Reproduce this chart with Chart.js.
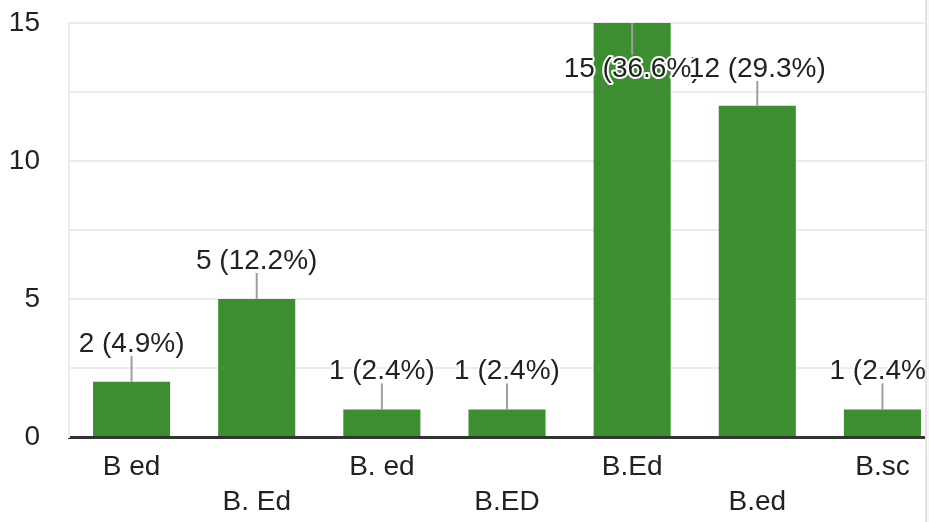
<!DOCTYPE html>
<html>
<head>
<meta charset="utf-8">
<script src="https://cdn.jsdelivr.net/npm/chart.js@4"></script>
<style>
  html, body { margin: 0; padding: 0; background: #f7f7f7; overflow: hidden; }
  #clip { position: absolute; left: 0; top: 0; width: 925px; height: 522px; overflow: hidden; background: #fff; border-right: 2px solid #e3e3e3; }
  #wrap { position: absolute; left: 0; top: 0; width: 945px; height: 522px; }
</style>
</head>
<body>
<div id="clip"><div id="wrap"><canvas id="c"></canvas></div></div>
<script>
const categories = ["B ed", "B. Ed", "B. ed", "B.ED", "B.Ed", "B.ed", "B.sc"];
const counts = [2, 5, 1, 1, 15, 12, 1];
const percents = ["4.9%", "12.2%", "2.4%", "2.4%", "36.6%", "29.3%", "2.4%"];
const yTicks = [0, 5, 10, 15];

const FONT = "'Liberation Sans', Arial, sans-serif";

// staggered two-row category labels
const staggered = categories.map((c, i) => i % 2 === 0 ? [c, ""] : ["", c]);

const labelPlugin = {
  id: "barLabels",
  afterDatasetsDraw(chart) {
    const ctx = chart.ctx;
    const meta = chart.getDatasetMeta(0);
    const area = chart.chartArea;
    ctx.save();
    ctx.font = "28px " + FONT;
    ctx.textAlign = "center";
    ctx.textBaseline = "middle";
    const pos = meta.data.map((bar) => {
      let ly = bar.y - 38;
      const minY = area.top + 46;
      if (ly < minY) ly = minY;
      return ly;
    });
    meta.data.forEach((bar, i) => {
      const ly = pos[i];
      ctx.strokeStyle = "#9e9e9e";
      ctx.lineWidth = 2;
      ctx.beginPath();
      if (ly + 12 < bar.y) {
        ctx.moveTo(bar.x, ly + 12);
        ctx.lineTo(bar.x, bar.y);
      } else {
        ctx.moveTo(bar.x, bar.y);
        ctx.lineTo(bar.x, ly - 14);
      }
      ctx.stroke();
    });
    meta.data.forEach((bar, i) => {
      const text = counts[i] + " (" + percents[i] + ")";
      const ly = pos[i];
      ctx.lineJoin = "round";
      ctx.strokeStyle = "#ffffff";
      ctx.lineWidth = 4;
      ctx.strokeText(text, bar.x, ly);
      ctx.fillStyle = "#222222";
      ctx.fillText(text, bar.x, ly);
    });
    ctx.restore();
  }
};

new Chart(document.getElementById("c"), {
  type: "bar",
  data: {
    labels: staggered,
    datasets: [{
      data: counts,
      backgroundColor: "#3d8e30",
      borderWidth: 0,
      barPercentage: 0.616,
      categoryPercentage: 1
    }]
  },
  options: {
    responsive: true,
    maintainAspectRatio: false,
    animation: false,
    events: [],
    layout: { padding: { top: 23, left: 0, right: 0, bottom: 0 } },
    plugins: { legend: { display: false }, tooltip: { enabled: false } },
    scales: {
      x: {
        grid: { display: false, drawTicks: false },
        border: { display: true, color: "#333333", width: 3 },
        ticks: {
          color: "#222222",
          font: { family: FONT, size: 28, lineHeight: 1.25 },
          padding: 13,
          maxRotation: 0,
          autoSkip: false
        },
        afterFit(scale) {
          scale.height = 85;
          scale.paddingLeft = 0; scale.paddingRight = 0;
          scale.paddingTop = 0; scale.paddingBottom = 0;
        }
      },
      y: {
        min: 0,
        max: 15,
        grid: {
          drawTicks: false,
          color: (c) => (c.tick && c.tick.value === 0) ? "rgba(0,0,0,0)" : "#ebebeb",
          lineWidth: 2
        },
        border: { display: true, color: "#ebebeb", width: 2 },
        ticks: {
          stepSize: 2.5,
          color: "#222222",
          font: { family: FONT, size: 28 },
          padding: 29,
          callback: (v) => yTicks.includes(v) ? String(v) : ""
        },
        afterFit(scale) {
          scale.width = 69;
          scale.paddingTop = 0; scale.paddingBottom = 0;
          scale.paddingLeft = 0; scale.paddingRight = 0;
        }
      }
    }
  },
  plugins: [labelPlugin]
});
</script>
</body>
</html>
